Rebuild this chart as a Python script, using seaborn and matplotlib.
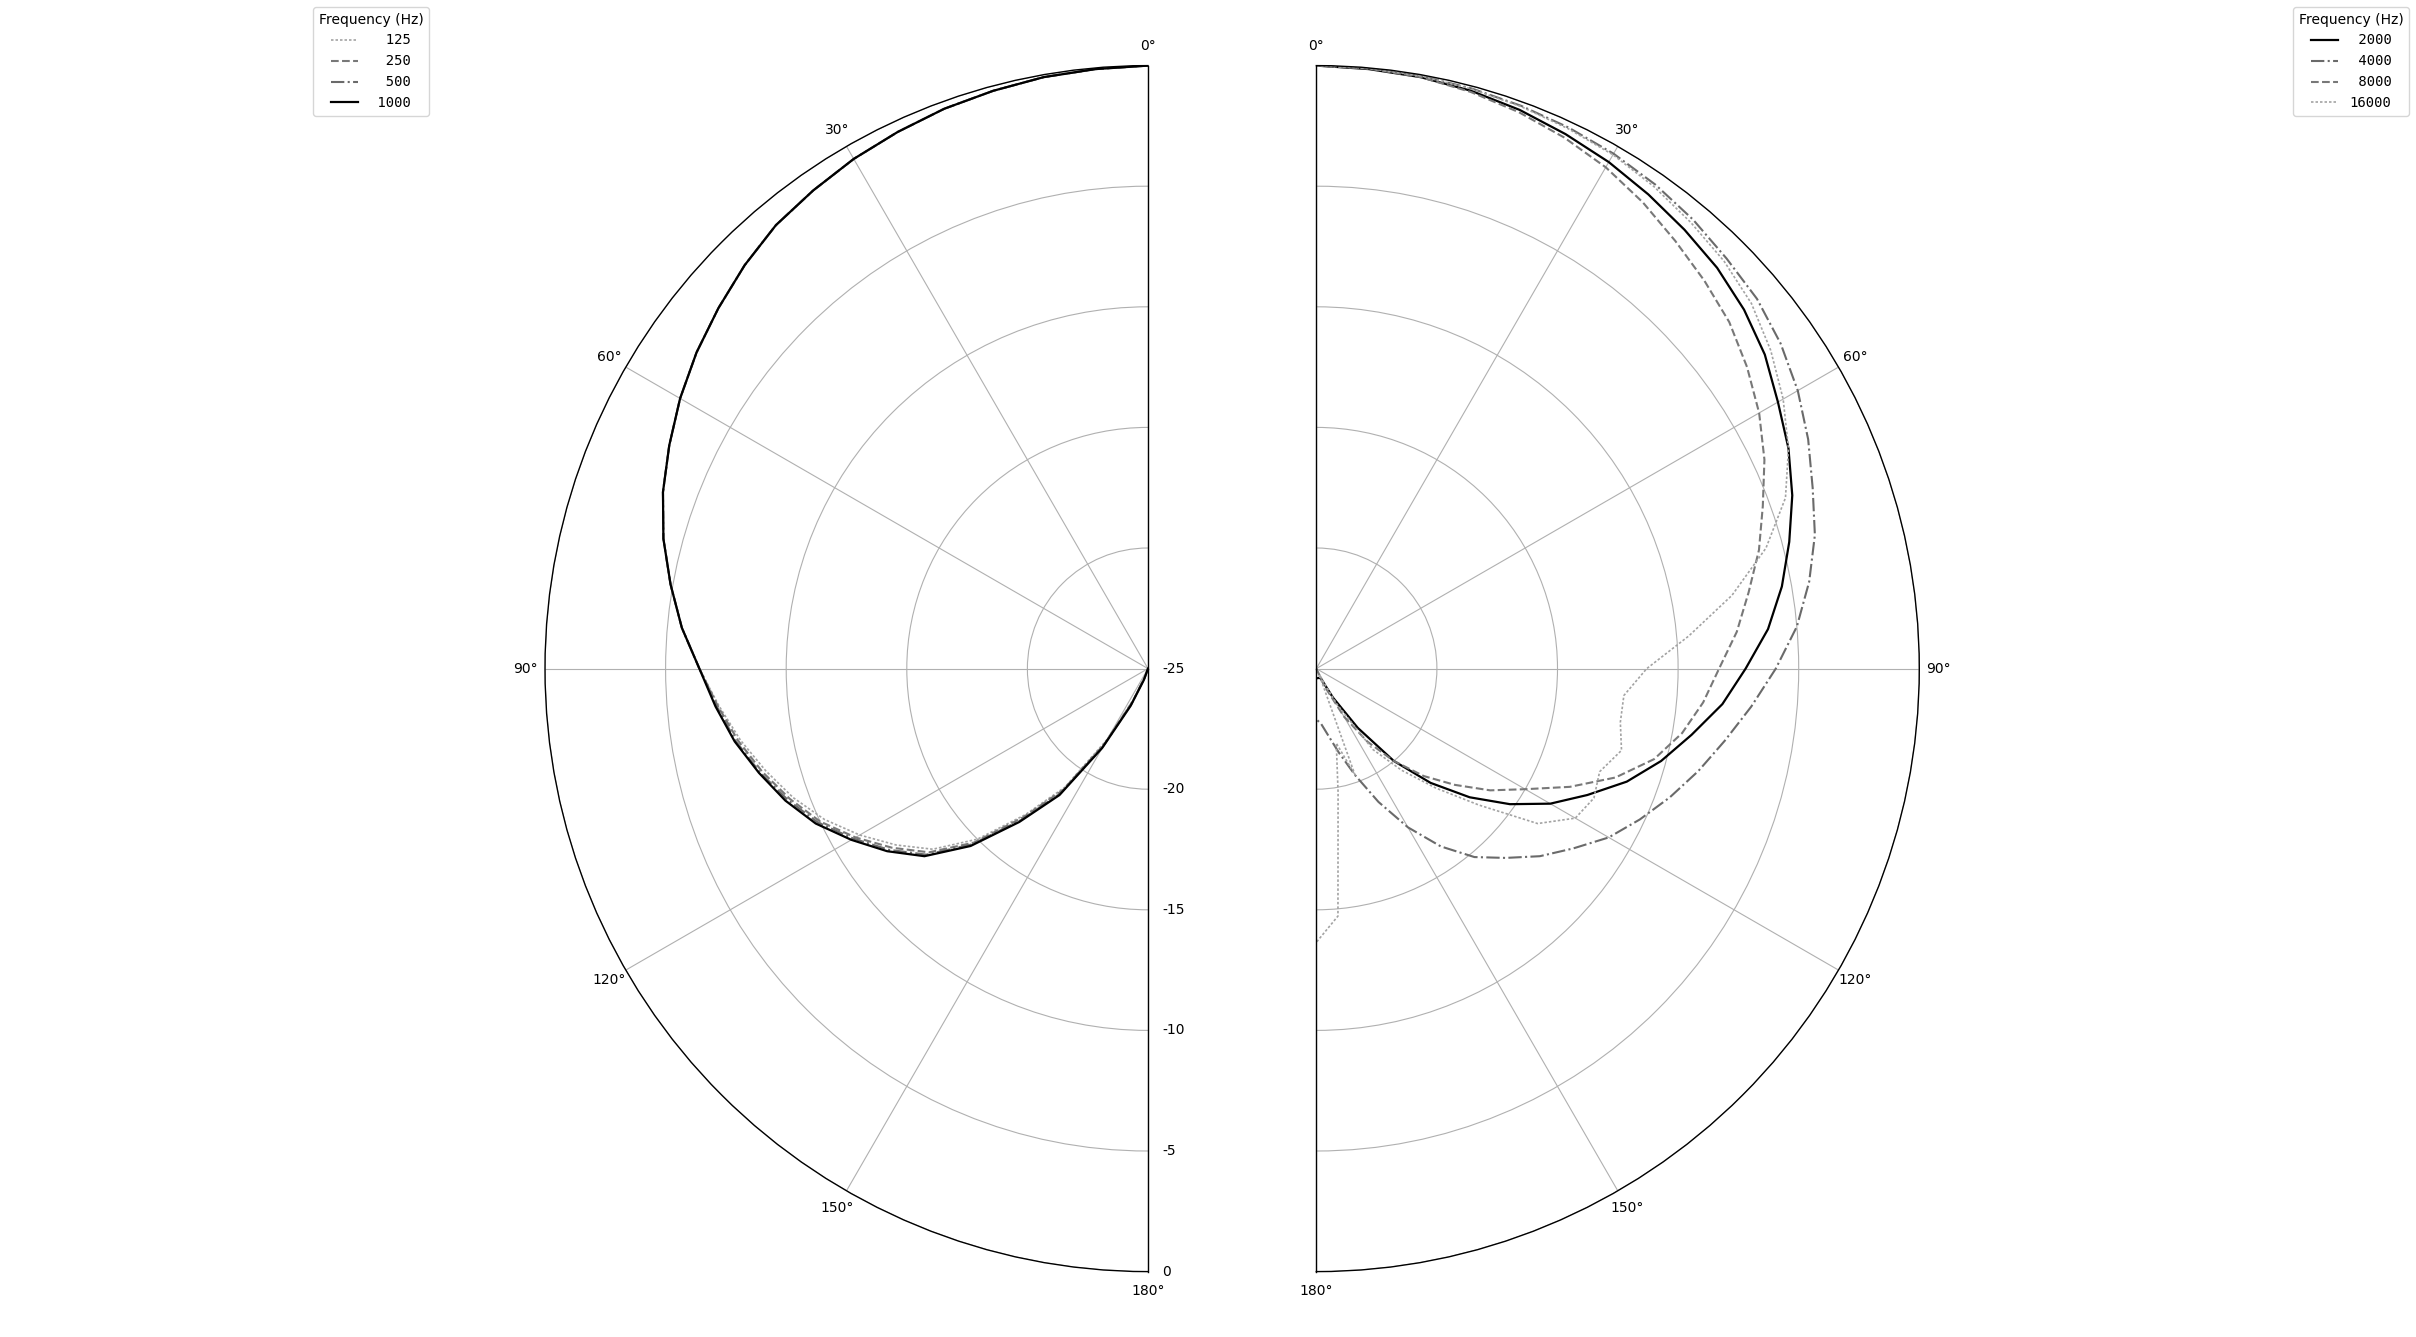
import numpy as np
import pandas as pd
import matplotlib
matplotlib.use("Agg")
import matplotlib.pyplot as plt
import seaborn as sns

# ---------------- data ----------------
angles_deg = list(range(0, 181, 5))

left_freqs = [125, 250, 500, 1000]
right_freqs = [2000, 4000, 8000, 16000]

db_125 = [0.0, -0.05, -0.1, -0.2, -0.3, -0.45, -0.6, -0.8, -1.0, -1.35, -1.75, -2.15, -2.6,
          -3.1, -3.6, -4.2, -4.9, -5.6, -6.4, -7.15, -7.85, -8.6, -9.35, -10.2, -11.2,
          -12.25, -13.35, -15.0, -17.1, -19.0, -21.6, -23.6, -24.7, -25, -25, -25, -25]
db_250 = [0.0, -0.05, -0.1, -0.2, -0.3, -0.45, -0.6, -0.8, -1.0, -1.35, -1.75, -2.15, -2.6,
          -3.1, -3.6, -4.2, -4.9, -5.6, -6.4, -7.1, -7.75, -8.45, -9.2, -10.0, -11.0,
          -12.05, -13.15, -14.8, -16.95, -18.85, -21.4, -23.5, -24.6, -25, -25, -25, -25]
db_500 = [0.0, -0.05, -0.1, -0.2, -0.3, -0.45, -0.6, -0.8, -1.0, -1.35, -1.75, -2.15, -2.6,
          -3.1, -3.6, -4.2, -4.9, -5.6, -6.4, -7.05, -7.65, -8.35, -9.1, -9.9, -10.9,
          -11.9, -13.0, -14.7, -16.8, -18.7, -21.3, -23.4, -24.6, -25, -25, -25, -25]
db_1000 = [0.0, -0.05, -0.1, -0.2, -0.3, -0.45, -0.6, -0.8, -1.0, -1.35, -1.75, -2.15, -2.6,
           -3.1, -3.6, -4.2, -4.9, -5.6, -6.4, -7.0, -7.6, -8.3, -9.0, -9.8, -10.8,
           -11.8, -12.9, -14.6, -16.7, -18.6, -21.2, -23.3, -24.5, -25, -25, -25, -25]

db_2000 = [0.0, -0.05, -0.1, -0.2, -0.35, -0.55, -0.75, -1.0, -1.25, -1.5, -1.85, -2.3, -2.9,
           -3.4, -4.0, -4.7, -5.4, -6.2, -7.2, -8.1, -9.2, -10.2, -11.3, -12.6, -13.8,
           -15.2, -16.7, -18.3, -20.0, -22.0, -23.6, -24.5, -24.6, -24.6, -24.6, -24.6, -24.6]
db_4000 = [0.0, -0.02, -0.05, -0.1, -0.17, -0.25, -0.35, -0.5, -0.7, -0.95, -1.15, -1.5, -1.95,
           -2.5, -3.1, -3.6, -4.25, -5.0, -5.95, -6.9, -7.8, -8.6, -9.4, -10.2, -11.0,
           -12.0, -12.9, -13.9, -14.8, -16.0, -17.4, -18.9, -20.3, -21.4, -22.2, -22.7, -22.9]
db_8000 = [0.0, -0.03, -0.1, -0.25, -0.45, -0.7, -1.0, -1.4, -1.85, -2.25, -2.65, -3.2, -3.8,
           -4.5, -5.3, -6.0, -6.8, -7.5, -8.3, -8.9, -9.6, -10.5, -11.8, -13.4, -15.0,
           -16.2, -17.5, -18.7, -20.0, -21.3, -22.7, -24.2, -25, -25, -25, -25, -25]
db_16000 = [0.0, -0.02, -0.05, -0.12, -0.2, -0.3, -0.4, -0.6, -0.85, -1.1, -1.45, -2.0, -2.65,
            -3.4, -4.3, -5.7, -7.5, -9.5, -11.3, -12.2, -12.2, -11.9, -12.5, -12.3, -12.6,
            -13.8, -16.2, -18.0, -19.5, -20.9, -23.3, -24.7, -20.3, -21.8, -19.8, -14.7, -13.65]

r_ticks = [-25, -20, -15, -10, -5, 0]
r_tick_labels = ["-25", "-20", "-15", "-10", "-5", "0"]
theta_ticks = [0, 30, 60, 90, 120, 150, 180]
legend_title = "Frequency (Hz)"

series = {125: db_125, 250: db_250, 500: db_500, 1000: db_1000,
          2000: db_2000, 4000: db_4000, 8000: db_8000, 16000: db_16000}

dotted = (0, (1.5, 1.2))
styles = {
    125: dict(color="#a3a3a3", linestyle=dotted, linewidth=1.2),
    250: dict(color="#787878", linestyle="--", linewidth=1.5),
    500: dict(color="#6a6a6a", linestyle="-.", linewidth=1.5),
    1000: dict(color="black", linestyle="-", linewidth=1.6),
    2000: dict(color="black", linestyle="-", linewidth=1.6),
    4000: dict(color="#6a6a6a", linestyle="-.", linewidth=1.5),
    8000: dict(color="#787878", linestyle="--", linewidth=1.5),
    16000: dict(color="#a3a3a3", linestyle=dotted, linewidth=1.2),
}

df = pd.DataFrame([
    {"freq": f, "theta": np.deg2rad(a), "db": v}
    for f, vals in series.items() for a, v in zip(angles_deg, vals)
])

# ---------------- figure ----------------
W, H = 2416, 1337
fig = plt.figure(figsize=(W / 100, H / 100), dpi=100)
R = 603.0
cy = 668.4  # from bottom
left_cx, right_cx = 1148.0, 1316.3

axL = fig.add_axes([(left_cx - 1.5 * R) / W, (cy - R) / H, 2 * R / W, 2 * R / H],
                   projection="polar")
axR = fig.add_axes([(right_cx - 0.5 * R) / W, (cy - R) / H, 2 * R / W, 2 * R / H],
                   projection="polar")


def setup(ax, direction, show_r_labels):
    ax.set_theta_zero_location("N")
    ax.set_theta_direction(direction)
    ax.set_thetamin(0)
    ax.set_thetamax(180)
    ax.set_ylim(-25, 0)
    ax.set_thetagrids(theta_ticks)
    ax.set_yticks(r_ticks)
    if show_r_labels:
        ax.set_yticklabels(r_tick_labels)
        ax.tick_params(axis="y", labelleft=False, labelright=True, length=0, pad=10)
    else:
        ax.set_yticklabels([])
        ax.tick_params(axis="y", labelleft=False, labelright=False, length=0)
    ax.tick_params(axis="x", labelsize=10)
    ax.tick_params(axis="y", labelsize=10)
    ax.grid(True, color="#b0b0b0", linewidth=0.8)
    for sp in ax.spines.values():
        sp.set_color("black")
        sp.set_linewidth(1.0)
    ax.set_xlabel("")
    ax.set_ylabel("")


def draw(ax, freqs):
    handles = []
    for f in freqs:
        sub = df[df["freq"] == f]
        sns.lineplot(data=sub, x="theta", y="db", ax=ax, sort=False, legend=False,
                     label=f"{f:>5}", **styles[f])
        handles.append(ax.lines[-1])
    ax.set_xlabel("")
    ax.set_ylabel("")
    return handles


hL = draw(axL, left_freqs)
hR = draw(axR, right_freqs)
setup(axL, 1, True)
setup(axR, -1, False)

leg_kw = dict(title=legend_title, borderaxespad=0, bbox_transform=fig.transFigure,
              prop={"family": "DejaVu Sans Mono", "size": 10},
              title_fontproperties={"family": "DejaVu Sans", "size": 10})
fig.legend(hL, [f"{f:>5}" for f in left_freqs], loc="upper left",
           bbox_to_anchor=(313 / W, 1 - 7 / H), **leg_kw)
fig.legend(hR, [f"{f:>5}" for f in right_freqs], loc="upper right",
           bbox_to_anchor=(2409 / W, 1 - 7 / H), **leg_kw)

fig.savefig("out.png", dpi=100)
